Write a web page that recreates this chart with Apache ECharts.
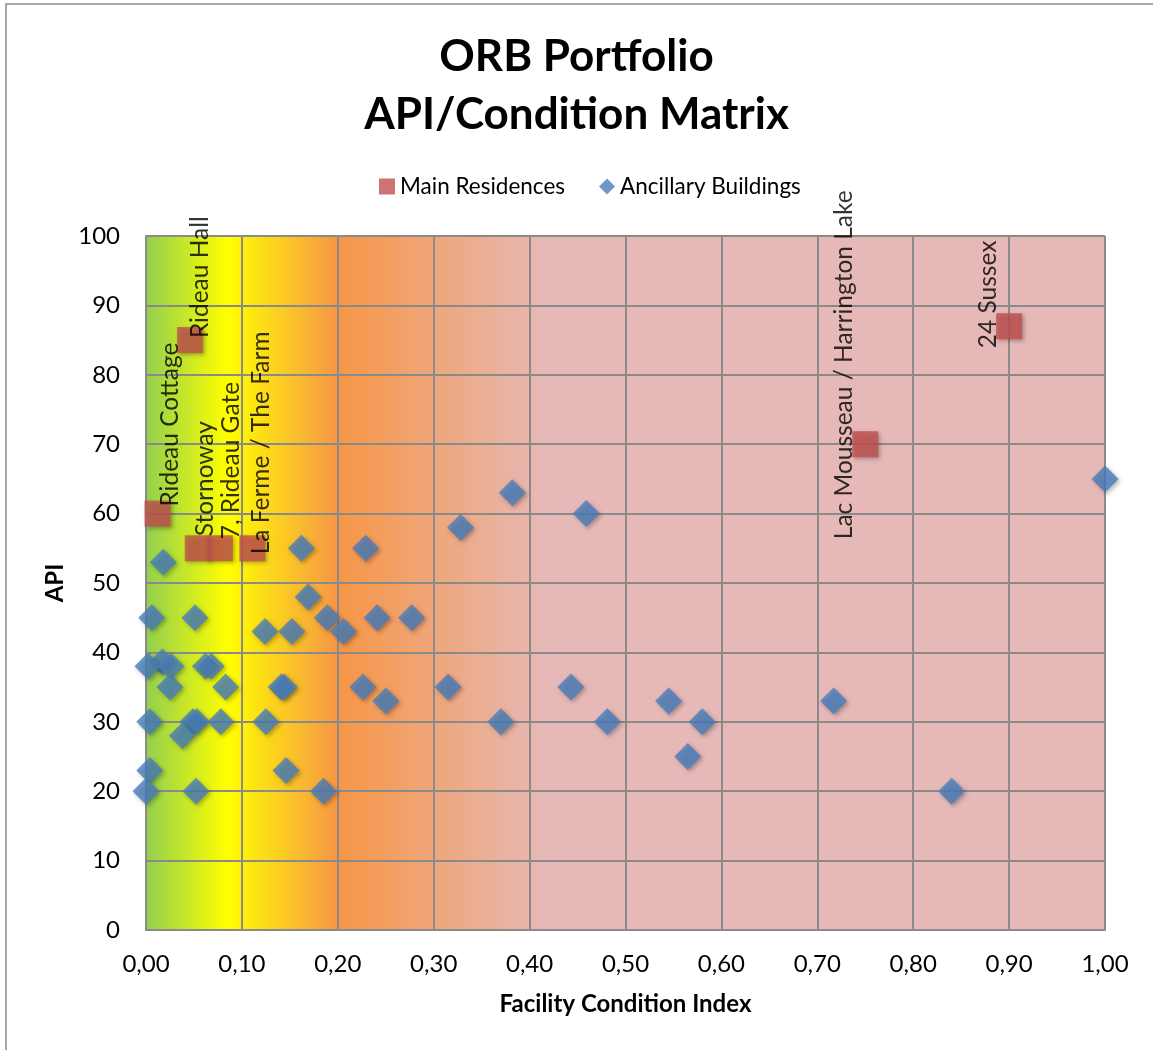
<!DOCTYPE html>
<html>
<head>
<meta charset="utf-8">
<title>ORB Portfolio – API/Condition Matrix</title>
<script src="https://cdn.jsdelivr.net/npm/echarts@6/dist/echarts.min.js"></script>
<style>
  html, body { margin: 0; padding: 0; background: #ffffff; }
  #chart { width: 1153px; height: 1050px; }
</style>
</head>
<body>
<div id="chart"></div>
<script>
// Main residences: name, facility condition index, asset priority index
const mainNames = ['Rideau Cottage', 'Rideau Hall', 'Stornoway', '7, Rideau Gate',
  'La Ferme / The Farm', 'Lac Mousseau / Harrington Lake', '24 Sussex'];
const mainFci = [0.012, 0.046, 0.054, 0.077, 0.111, 0.75, 0.90];
const mainApi = [60, 85, 55, 55, 55, 70, 87];

// Ancillary buildings: facility condition index and asset priority index
const ancFci = [0.018, 0.162, 0.229, 0.169, 0.006, 0.051, 0.124, 0.152, 0.189, 0.206,
  0.241, 0.277, 0.017, 0.002, 0.026, 0.062, 0.068, 0.025, 0.083, 0.141,
  0.144, 0.226, 0.250, 0.004, 0.049, 0.053, 0.038, 0.078, 0.125, 0.004,
  0.000, 0.052, 0.146, 0.185, 0.382, 0.459, 0.328, 0.315, 0.370, 0.443,
  0.481, 0.545, 0.580, 0.565, 0.717, 0.840, 1.000];
const ancApi = [53, 55, 55, 48, 45, 45, 43, 43, 45, 43,
  45, 45, 38.6, 38, 38, 38, 38, 35, 35, 35,
  35, 35, 33, 30, 30, 30, 28, 30, 30, 23,
  20, 20, 23, 20, 63, 60, 58, 35, 30, 35,
  30, 33, 30, 25, 33, 20, 65];

// Axis tick labels
const xTickLabels = ['0,00', '0,10', '0,20', '0,30', '0,40', '0,50', '0,60', '0,70', '0,80', '0,90', '1,00'];
const yTickLabels = ['0', '10', '20', '30', '40', '50', '60', '70', '80', '90', '100'];

// Hand-placed label nudges (screen px from the marker centre) for the residence names
const labelNudge = [[13, -7], [10, -2], [7, -12], [11, -9], [9, 6], [-21, 95], [-21, 22]];

const FONT = 'Lato, "Open Sans", sans-serif';
const SQ = 26;      // residence marker size
const DIA = 27;     // ancillary marker size
const GRID_COLOR = '#8a8a8a';

const mainData = mainNames.map((n, i) => ({
  name: n,
  value: [mainFci[i], mainApi[i]],
  label: {
    position: [SQ / 2 + labelNudge[i][0], SQ / 2 + labelNudge[i][1]]
  }
}));
const ancData = ancFci.map((x, i) => [x, ancApi[i]]);

const chart = echarts.init(document.getElementById('chart'), null, { renderer: 'canvas' });

chart.setOption({
  animation: false,
  backgroundColor: '#ffffff',
  textStyle: { fontFamily: FONT },
  title: {
    text: 'ORB Portfolio\nAPI/Condition Matrix',
    left: 'center',
    top: 23,
    textStyle: {
      fontFamily: FONT, fontWeight: 'bold', fontSize: 44, color: '#000000', lineHeight: 58
    }
  },
  legend: {
    top: 170,
    left: 374,
    itemGap: 34,
    itemWidth: 16,
    itemHeight: 16,
    textStyle: { fontFamily: FONT, fontSize: 22.5, color: '#000000' },
    data: [
      { name: 'Main Residences', icon: 'rect' },
      { name: 'Ancillary Buildings', icon: 'diamond' }
    ]
  },
  graphic: [{
    type: 'rect',
    shape: { x: 6, y: 4, width: 1300, height: 1200 },
    style: { fill: 'none', stroke: '#8c8c8c', lineWidth: 1.5 },
    silent: true,
    z: -10
  }],
  grid: {
    left: 146, right: 48, top: 236, bottom: 120,
    show: true,
    borderWidth: 0,
    backgroundColor: new echarts.graphic.LinearGradient(0, 0, 1, 0, [
      { offset: 0.0, color: '#92d050' },
      { offset: 0.085, color: '#ffff00' },
      { offset: 0.2, color: '#f79646' },
      { offset: 0.42, color: '#e6b9b8' },
      { offset: 1.0, color: '#e6b9b8' }
    ])
  },
  xAxis: {
    type: 'value',
    min: 0, max: 1, interval: 0.1,
    name: 'Facility Condition Index',
    nameLocation: 'middle',
    nameGap: 62,
    nameTextStyle: { fontFamily: FONT, fontWeight: 'bold', fontSize: 24, color: '#000000' },
    axisLine: { show: true, onZero: false, lineStyle: { color: GRID_COLOR, width: 2 } },
    axisTick: { show: false },
    axisLabel: {
      margin: 22, fontFamily: FONT, fontSize: 24, color: '#000000',
      formatter: v => xTickLabels[Math.round(v * 10)]
    },
    splitLine: { show: true, lineStyle: { color: GRID_COLOR, width: 2 } }
  },
  yAxis: {
    type: 'value',
    min: 0, max: 100, interval: 10,
    name: 'API',
    nameLocation: 'middle',
    nameRotate: 90,
    nameGap: 76,
    nameTextStyle: { fontFamily: FONT, fontWeight: 'bold', fontSize: 24, color: '#000000' },
    axisLine: { show: true, onZero: false, lineStyle: { color: GRID_COLOR, width: 2 } },
    axisTick: { show: false },
    axisLabel: {
      margin: 26, fontFamily: FONT, fontSize: 24, color: '#000000',
      formatter: v => yTickLabels[Math.round(v / 10)]
    },
    splitLine: { show: true, lineStyle: { color: GRID_COLOR, width: 2 } }
  },
  series: [
    {
      name: 'Ancillary Buildings',
      type: 'scatter',
      symbol: 'diamond',
      symbolSize: DIA,
      z: 3,
      itemStyle: {
        color: '#4a7ebb',
        shadowColor: 'rgba(0,0,0,0.35)', shadowBlur: 4, shadowOffsetX: 2, shadowOffsetY: 2
      },
      emphasis: { disabled: true },
      data: ancData
    },
    {
      name: 'Main Residences',
      type: 'scatter',
      symbol: 'rect',
      symbolSize: SQ,
      z: 4,
      itemStyle: {
        color: '#c0504d',
        shadowColor: 'rgba(0,0,0,0.35)', shadowBlur: 4, shadowOffsetX: 2, shadowOffsetY: 2
      },
      label: {
        show: true,
        formatter: p => p.name,
        rotate: 90,
        align: 'left',
        verticalAlign: 'middle',
        fontFamily: FONT,
        fontSize: 24.5,
        color: '#000000'
      },
      labelLayout: { hideOverlap: false },
      emphasis: { disabled: true },
      data: mainData
    }
  ]
});
</script>
</body>
</html>
